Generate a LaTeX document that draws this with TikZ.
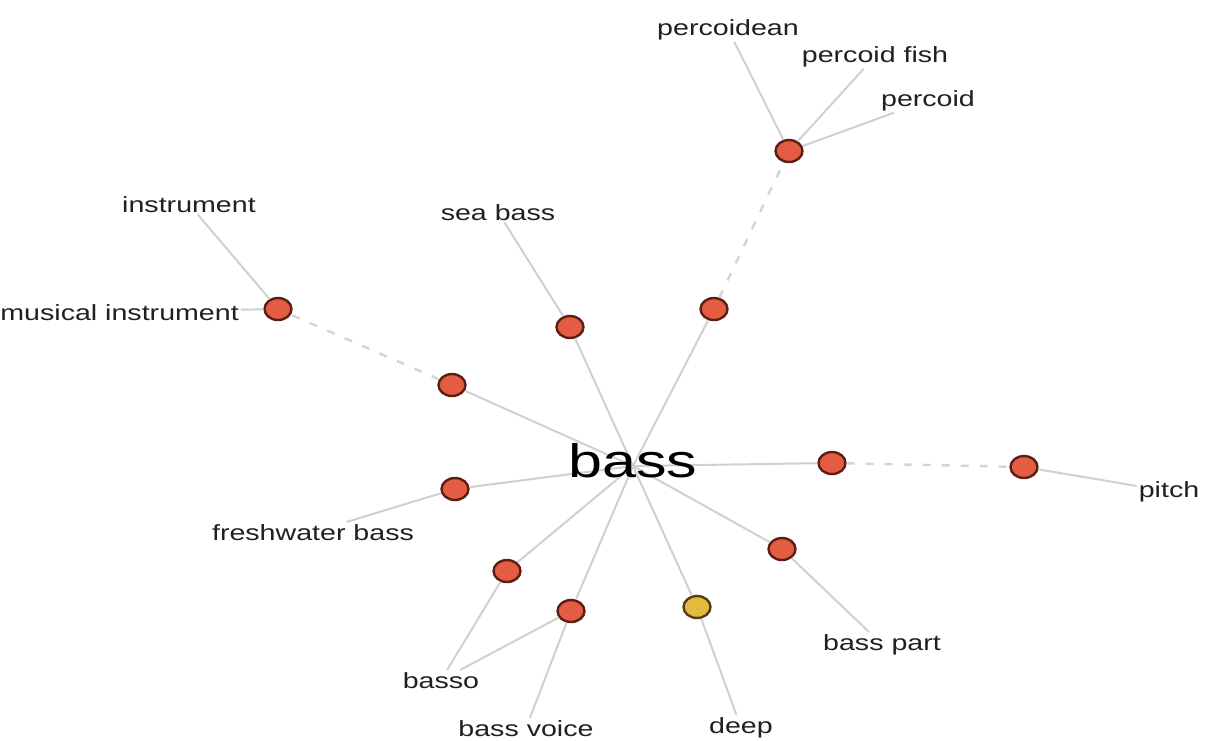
\documentclass[tikz,border=0pt]{standalone}
\usepackage{fontspec}
\setmainfont{Liberation Sans}[FakeStretch=1.3]
\usetikzlibrary{shapes.geometric}

\definecolor{synfill}{RGB}{228,92,66}
\definecolor{synedge}{RGB}{90,30,20}
\definecolor{adjfill}{RGB}{226,186,62}
\definecolor{adjedge}{RGB}{85,62,20}
\definecolor{linkgray}{RGB}{208,208,208}
\definecolor{hypgray}{RGB}{212,212,212}
\definecolor{labelink}{RGB}{32,32,32}

\tikzset{
  synset/.style={ellipse, draw=synedge, fill=synfill, line width=2.4pt,
    minimum width=27pt, minimum height=22pt, inner sep=0pt},
  adjset/.style={synset, draw=adjedge, fill=adjfill},
  lemma/.style={anchor=base, text=labelink, inner sep=2pt,
    font=\fontsize{22}{24}\selectfont},
  link/.style={draw=linkgray, line width=2pt},
  hyperlink/.style={draw=hypgray, line width=2.4pt, dash pattern=on 8pt off 11pt}
}

\begin{document}
\begin{tikzpicture}[x=1pt, y=-1pt]
\useasboundingbox (0,0) rectangle (1205,740);

% hub of the star
\coordinate (hub) at (633,466);

% synset dots
\node[synset] (perc)  at (789,151) {};
\node[synset] (up)    at (714,309) {};
\node[synset] (sea)   at (570,327) {};
\node[synset] (mus)   at (278,309) {};
\node[synset] (instr) at (452,385) {};
\node[synset] (fresh) at (455,489) {};
\node[synset] (bso)   at (507,571) {};
\node[synset] (voice) at (571,611) {};
\node[adjset] (deepd) at (697,607) {};
\node[synset] (part)  at (782,549) {};
\node[synset] (low)   at (832,463) {};
\node[synset] (pitchd) at (1024,467) {};

% word labels
\node[lemma] (lpercoidean) at (728,35)  {percoidean};
\node[lemma] (lpercfish)   at (875,62)  {percoid fish};
\node[lemma] (lpercoid)    at (928,106) {percoid};
\node[lemma] (lseabass)    at (498,220) {sea bass};
\node[lemma] (linstrument) at (189,212) {instrument};
\node[lemma, anchor=base east] (lmusical) at (241,320) {musical instrument};
\node[lemma] (lfresh)      at (313,540) {freshwater bass};
\node[lemma] (lbasso)      at (441,688) {basso};
\node[lemma] (lvoice)      at (526,736) {bass voice};
\node[lemma] (ldeep)       at (741,733) {deep};
\node[lemma] (lpart)       at (882,650) {bass part};
\node[lemma] (lpitch)      at (1169,497) {pitch};

% connectors from the hub
\foreach \n in {up,sea,instr,fresh,bso,voice,deepd,part,low}
  \path[link] (hub) -- (\n);

% hypernym chains
\path[hyperlink] (up) -- (perc);
\path[hyperlink] (instr) -- (mus);
\path[hyperlink] (low) -- (pitchd);

% leaves
\path[link] (perc) -- (lpercoidean);
\path[link] (perc) -- (lpercfish);
\path[link] (perc) -- (lpercoid);
\path[link] (sea) -- (lseabass);
\path[link] (mus) -- (linstrument);
\path[link] (mus) -- (lmusical);
\path[link] (fresh) -- (lfresh);
\path[link] (bso) -- (lbasso);
\path[link] (voice) -- (lbasso);
\path[link] (voice) -- (lvoice);
\path[link] (deepd) -- (ldeep);
\path[link] (part) -- (lpart);
\path[link] (pitchd) -- (lpitch);

% central word
\node[anchor=base, inner sep=0pt, font=\fontsize{47}{50}\selectfont] (bass) at (633,477) {bass};
\end{tikzpicture}
\end{document}
